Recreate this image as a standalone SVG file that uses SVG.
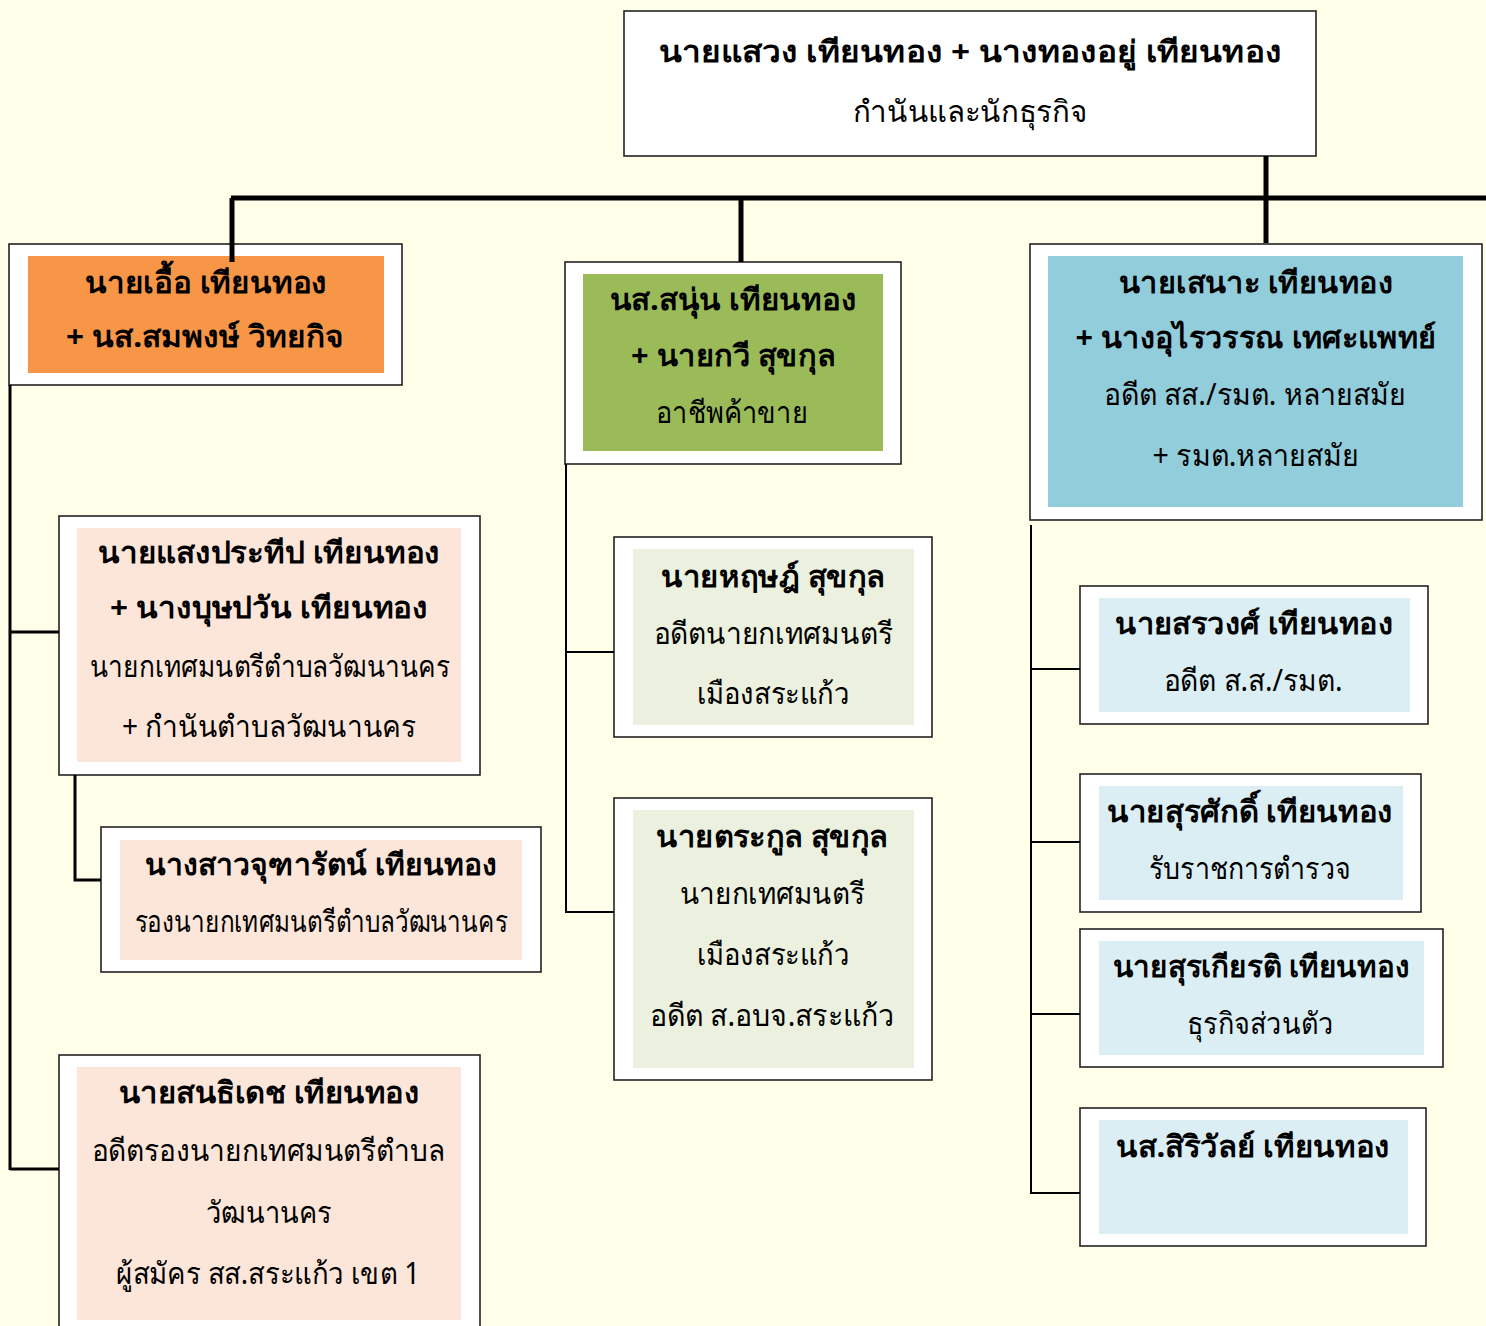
<svg xmlns="http://www.w3.org/2000/svg" width="1486" height="1326" viewBox="0 0 1486 1326">
<style>
.bg{fill:#FFFEE9}
.box{fill:#fff;stroke:#222;stroke-width:1.6}
.t{font-family:"Noto Sans","DejaVu Sans",sans-serif;font-size:30px;fill:#000;text-anchor:middle}
.b{font-weight:bold}
.thick{stroke:#000;stroke-width:5;fill:none}
.mid{stroke:#000;stroke-width:3;fill:none}
.thin{stroke:#000;stroke-width:2;fill:none}
.or{fill:#F79646}.pe{fill:#FCE6D9}.gr{fill:#9BBB59}.lg{fill:#EBF1DE}.bl{fill:#92CDDC}.lb{fill:#DAEEF3}
</style>
<rect class="bg" x="0" y="0" width="1486" height="1326"/>

<g id="n-root">
<rect class="box" x="624" y="11" width="692" height="145"/>
<text class="t b" x="970" y="62" textLength="623" lengthAdjust="spacingAndGlyphs">นายแสวง เทียนทอง + นางทองอยู่ เทียนทอง</text>
<text class="t" x="970" y="122" textLength="235" lengthAdjust="spacingAndGlyphs">กำนันและนักธุรกิจ</text>
</g>

<g id="n-ua">
<rect class="box" x="9" y="244" width="393" height="141"/>
<rect class="or" x="28" y="256" width="356" height="117"/>
<text class="t b" x="206" y="293" textLength="242" lengthAdjust="spacingAndGlyphs">นายเอื้อ เทียนทอง</text>
<text class="t b" x="205" y="347" textLength="278" lengthAdjust="spacingAndGlyphs">+ นส.สมพงษ์ วิทยกิจ</text>
</g>

<g id="n-saengprateep">
<rect class="box" x="59" y="516" width="421" height="259"/>
<rect class="pe" x="77" y="528" width="384" height="234"/>
<text class="t b" x="269" y="563" textLength="342" lengthAdjust="spacingAndGlyphs">นายแสงประทีป เทียนทอง</text>
<text class="t b" x="269" y="618" textLength="318" lengthAdjust="spacingAndGlyphs">+ นางบุษปวัน เทียนทอง</text>
<text class="t" x="270" y="677" textLength="360" lengthAdjust="spacingAndGlyphs">นายกเทศมนตรีตำบลวัฒนานคร</text>
<text class="t" x="269" y="737" textLength="294" lengthAdjust="spacingAndGlyphs">+ กำนันตำบลวัฒนานคร</text>
</g>

<g id="n-chutharat">
<rect class="box" x="101" y="827" width="440" height="145"/>
<rect class="pe" x="120" y="840" width="402" height="120"/>
<text class="t b" x="321" y="875" textLength="352" lengthAdjust="spacingAndGlyphs">นางสาวจุฑารัตน์ เทียนทอง</text>
<text class="t" x="321" y="932" textLength="373" lengthAdjust="spacingAndGlyphs">รองนายกเทศมนตรีตำบลวัฒนานคร</text>
</g>

<g id="n-sonthidech">
<rect class="box" x="59" y="1055" width="421" height="280"/>
<rect class="pe" x="77" y="1067" width="384" height="253"/>
<text class="t b" x="269" y="1103" textLength="301" lengthAdjust="spacingAndGlyphs">นายสนธิเดช เทียนทอง</text>
<text class="t" x="268" y="1161" textLength="353" lengthAdjust="spacingAndGlyphs">อดีตรองนายกเทศมนตรีตำบล</text>
<text class="t" x="269" y="1223" textLength="126" lengthAdjust="spacingAndGlyphs">วัฒนานคร</text>
<text class="t" x="268" y="1284" textLength="304" lengthAdjust="spacingAndGlyphs">ผู้สมัคร สส.สระแก้ว เขต 1</text>
</g>

<g id="n-sanun">
<rect class="box" x="565" y="262" width="336" height="202"/>
<rect class="gr" x="583" y="274" width="300" height="177"/>
<text class="t b" x="733" y="310" textLength="247" lengthAdjust="spacingAndGlyphs">นส.สนุ่น เทียนทอง</text>
<text class="t b" x="733" y="366" textLength="204" lengthAdjust="spacingAndGlyphs">+ นายกวี สุขกุล</text>
<text class="t" x="732" y="423" textLength="152" lengthAdjust="spacingAndGlyphs">อาชีพค้าขาย</text>
</g>

<g id="n-harit">
<rect class="box" x="614" y="537" width="318" height="200"/>
<rect class="lg" x="633" y="549" width="281" height="176"/>
<text class="t b" x="773" y="587" textLength="224" lengthAdjust="spacingAndGlyphs">นายหฤษฎ์ สุขกุล</text>
<text class="t" x="773" y="644" textLength="239" lengthAdjust="spacingAndGlyphs">อดีตนายกเทศมนตรี</text>
<text class="t" x="773" y="704" textLength="153" lengthAdjust="spacingAndGlyphs">เมืองสระแก้ว</text>
</g>

<g id="n-trakul">
<rect class="box" x="614" y="798" width="318" height="282"/>
<rect class="lg" x="633" y="810" width="281" height="258"/>
<text class="t b" x="772" y="847" textLength="232" lengthAdjust="spacingAndGlyphs">นายตระกูล สุขกุล</text>
<text class="t" x="772" y="904" textLength="185" lengthAdjust="spacingAndGlyphs">นายกเทศมนตรี</text>
<text class="t" x="773" y="965" textLength="153" lengthAdjust="spacingAndGlyphs">เมืองสระแก้ว</text>
<text class="t" x="772" y="1026" textLength="245" lengthAdjust="spacingAndGlyphs">อดีต ส.อบจ.สระแก้ว</text>
</g>

<g id="n-sanoh">
<rect class="box" x="1030" y="244" width="452" height="276"/>
<rect class="bl" x="1048" y="256" width="415" height="251"/>
<text class="t b" x="1256" y="293" textLength="274" lengthAdjust="spacingAndGlyphs">นายเสนาะ เทียนทอง</text>
<text class="t b" x="1256" y="348" textLength="361" lengthAdjust="spacingAndGlyphs">+ นางอุไรวรรณ เทศะแพทย์</text>
<text class="t" x="1255" y="405" textLength="303" lengthAdjust="spacingAndGlyphs">อดีต สส./รมต. หลายสมัย</text>
<text class="t" x="1256" y="466" textLength="207" lengthAdjust="spacingAndGlyphs">+ รมต.หลายสมัย</text>
</g>

<g id="n-sarawong">
<rect class="box" x="1080" y="586" width="348" height="138"/>
<rect class="lb" x="1099" y="598" width="311" height="114"/>
<text class="t b" x="1254" y="634" textLength="278" lengthAdjust="spacingAndGlyphs">นายสรวงศ์ เทียนทอง</text>
<text class="t" x="1253" y="691" textLength="179" lengthAdjust="spacingAndGlyphs">อดีต ส.ส./รมต.</text>
</g>

<g id="n-surasak">
<rect class="box" x="1080" y="774" width="341" height="138"/>
<rect class="lb" x="1099" y="786" width="304" height="114"/>
<text class="t b" x="1250" y="822" textLength="286" lengthAdjust="spacingAndGlyphs">นายสุรศักดิ์ เทียนทอง</text>
<text class="t" x="1250" y="879" textLength="202" lengthAdjust="spacingAndGlyphs">รับราชการตำรวจ</text>
</g>

<g id="n-surakiat">
<rect class="box" x="1080" y="929" width="363" height="138"/>
<rect class="lb" x="1099" y="941" width="325" height="114"/>
<text class="t b" x="1261" y="977" textLength="297" lengthAdjust="spacingAndGlyphs">นายสุรเกียรติ เทียนทอง</text>
<text class="t" x="1260" y="1034" textLength="146" lengthAdjust="spacingAndGlyphs">ธุรกิจส่วนตัว</text>
</g>

<g id="n-sirivan">
<rect class="box" x="1080" y="1108" width="346" height="138"/>
<rect class="lb" x="1099" y="1120" width="309" height="114"/>
<text class="t b" x="1253" y="1157" textLength="274" lengthAdjust="spacingAndGlyphs">นส.สิริวัลย์ เทียนทอง</text>
</g>

<g id="connectors">
<path class="thick" d="M1266 156 V243"/>
<path class="thick" d="M231 198 H1486"/>
<path class="thick" d="M232 198 V262"/>
<path class="thick" d="M741 198 V262"/>
<path class="mid" d="M10 385 V1170 M10 632 H59 M10 1169 H59"/>
<path class="mid" d="M75 775 V880 H101"/>
<path class="thin" d="M566 464 V912 H614 M566 652 H614"/>
<path class="thin" d="M1031 525 V1193 H1080 M1031 669 H1080 M1031 842 H1080 M1031 1014 H1080"/>
</g>
</svg>
